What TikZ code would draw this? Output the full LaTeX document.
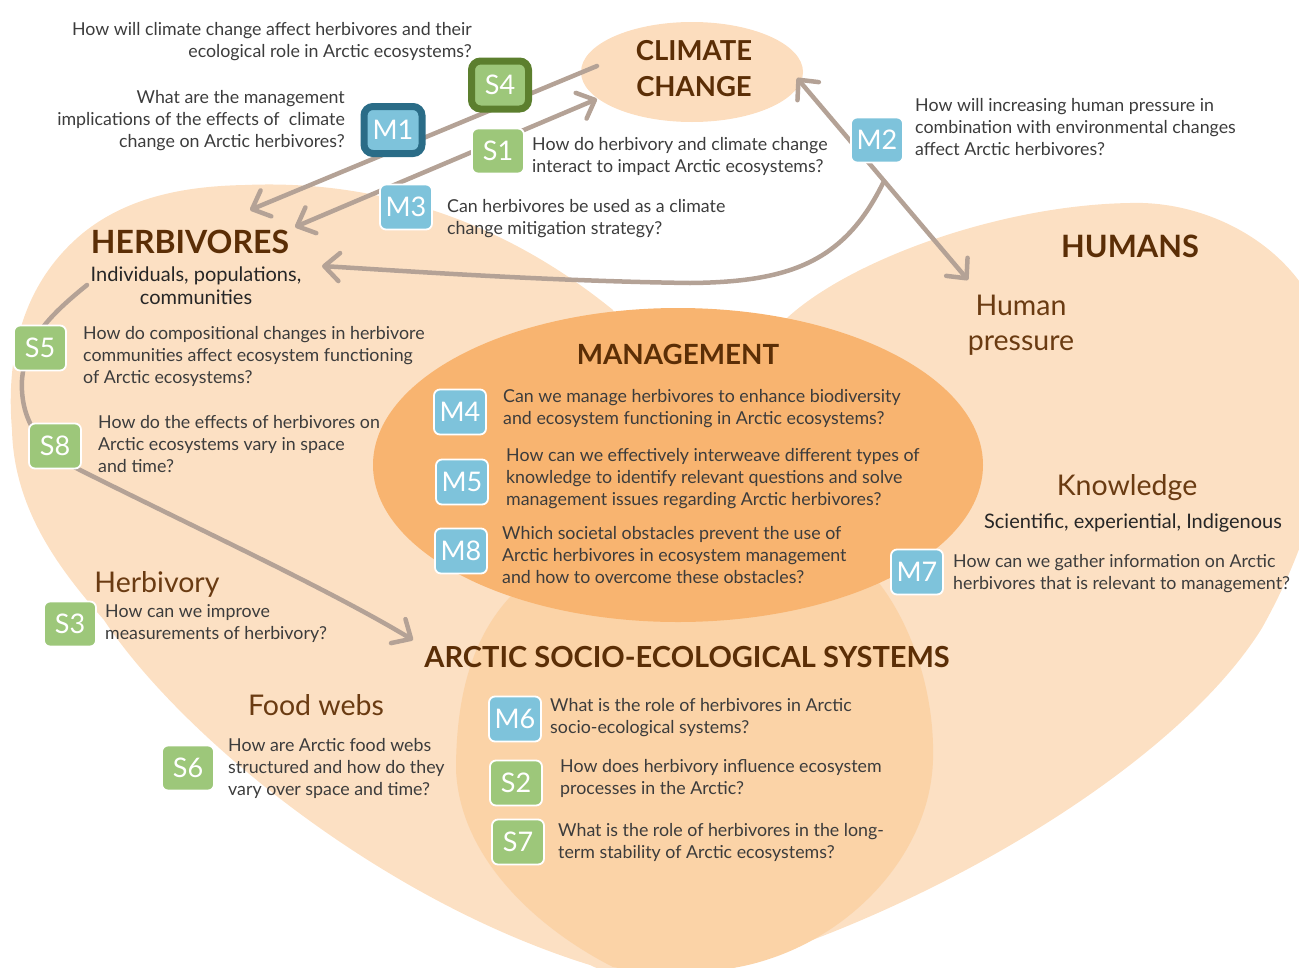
\documentclass[tikz,border=0pt]{standalone}
\usepackage{fontspec}
\setmainfont{Lato}
\usetikzlibrary{arrows.meta}
\definecolor{lightpeach}{HTML}{FCE0C3}
\definecolor{asescol}{HTML}{FBD3A7}
\definecolor{mgmtcol}{HTML}{F8B470}
\definecolor{climcol}{HTML}{FCDDBE}
\definecolor{linecol}{HTML}{B4A296}
\definecolor{sgreen}{HTML}{9DC77A}
\definecolor{mblue}{HTML}{7EC3DB}
\definecolor{dkgreen}{HTML}{5C7F2E}
\definecolor{dkblue}{HTML}{2A6C87}
\definecolor{headcol}{HTML}{5B2E06}
\definecolor{subcol}{HTML}{6A3B12}
\definecolor{qcol}{HTML}{3C3C3C}
\tikzset{
  conn/.style={draw=linecol, line width=4.5pt, line cap=round, line join=round},
  barb/.tip={Straight Barb[length=15pt,width=28pt,round]},
  badge/.style={rounded corners=6pt, draw=white, line width=1.8pt, minimum width=52pt, minimum height=45pt, inner sep=0pt, text=white, font=\fontsize{27}{30}\selectfont},
  sbadge/.style={badge, fill=sgreen},
  mbadge/.style={badge, fill=mblue},
  hsbadge/.style={badge, fill=sgreen, draw=dkgreen, line width=7pt, rounded corners=9pt, minimum width=57pt, minimum height=48pt},
  hmbadge/.style={badge, fill=mblue, draw=dkblue, line width=7pt, rounded corners=9pt, minimum width=58pt, minimum height=47pt},
  qtext/.style={font=\fontsize{17.8}{22}\selectfont, text=qcol, align=left, inner sep=0pt, anchor=north west},
  qtextr/.style={qtext, align=right, anchor=north east},
  heading/.style={text=headcol, inner sep=0pt, align=center},
  subhead/.style={font=\fontsize{28.5}{35}\selectfont, text=subcol, inner sep=0pt, align=center},
  subtext/.style={font=\fontsize{20}{23}\selectfont, text=black!85, inner sep=0pt, align=center},
}
\newcommand{\hfont}[1]{\fontsize{#1}{36}\selectfont\bfseries}
\begin{document}
\begin{tikzpicture}[x=1pt,y=-1pt]
\useasboundingbox (0,0) rectangle (1299,967);
\clip (0,0) rectangle (1299,967);
% background regions
\fill[lightpeach] (245,185) .. controls (360,180) and (490,210) .. (613,310) -- (640,380) -- (760,380) -- (787,318)
  .. controls (850,260) and (1000,205) .. (1130,203) .. controls (1220,200) and (1320,260) .. (1330,360)
  .. controls (1335,470) and (1300,560) .. (1262,628) .. controls (1180,760) and (950,900) .. (740,965)
  .. controls (700,985) and (630,985) .. (590,965) .. controls (380,900) and (180,735) .. (104,620)
  .. controls (60,570) and (14,510) .. (12,430) .. controls (6,360) and (20,285) .. (83,233)
  .. controls (130,195) and (190,186) .. (245,185) -- cycle;
\fill[asescol] (456,770) .. controls (456,680) and (480,600) .. (560,560) -- (830,560)
  .. controls (850,565) and (865,570) .. (875,578) .. controls (910,620) and (935,690) .. (933,760)
  .. controls (930,860) and (840,950) .. (733,968) .. controls (680,975) and (640,972) .. (613,967)
  .. controls (540,930) and (460,860) .. (456,770) -- cycle;
\fill[mgmtcol] (678,465) ellipse (305 and 157);
\fill[climcol] (692,72) ellipse (111 and 50);

% connector end points
\coordinate (cc-a) at (597,66);
\coordinate (herb-a) at (250,210);
\coordinate (cc-b) at (597,99);
\coordinate (herb-b) at (295,227);
\coordinate (cc-c) at (797,78);
\coordinate (hp-a) at (968,280);
\coordinate (br) at (884,181);
\coordinate (herb-c) at (322,266);
\coordinate (herb-d) at (87,285);
\coordinate (ases-a) at (413,640);

% connectors
\draw[conn,-barb] (cc-a) -- (herb-a);
\draw[conn,barb-barb] (herb-b) -- (cc-b);
\draw[conn,barb-barb] (cc-c) -- (hp-a);
\draw[conn,-barb] (br) .. controls (845,262) and (790,282) .. (690,283) .. controls (550,281) and (420,272) .. (herb-c);
\draw[conn,-barb] (herb-d) .. controls (50,315) and (25,340) .. (22,380) .. controls (20,420) and (40,450) .. (80,470) .. controls (200,530) and (330,590) .. (ases-a);

% headings
\node[heading, font=\hfont{27.5}] (clim) at (694,69) {CLIMATE\\CHANGE};
\node[heading, font=\hfont{32}] (herb) at (190,242) {HERBIVORES};
\node[heading, font=\hfont{30.8}] (hum) at (1130,246) {HUMANS};
\node[heading, font=\hfont{27.8}] (mgmt) at (678,354) {MANAGEMENT};
\node[heading, font=\hfont{29}] (ases) at (687,657) {ARCTIC SOCIO-ECOLOGICAL SYSTEMS};
\node[subtext, anchor=north] (herbsub) at (196,267) {Individuals, populations,\\communities};
\node[subtext, anchor=base] (knowsub) at (1133,528) {Scientific, experiential, Indigenous};
\node[subhead, anchor=base] (hbv) at (157,592) {Herbivory};
\node[subhead, anchor=base] (fw) at (316,715) {Food webs};
\node[subhead, anchor=base] (know) at (1127,495) {Knowledge};
\node[subhead, anchor=north] (hpr) at (1021,295) {Human\\pressure};

% badges
\node[hsbadge] (s4) at (500,85) {S4};
\node[hmbadge] (m1) at (393,130) {M1};
\node[sbadge] (s1) at (498,151) {S1};
\node[mbadge] (m3) at (406,207) {M3};
\node[mbadge] (m2) at (877,140) {M2};
\node[sbadge] (s5) at (40,348) {S5};
\node[sbadge] (s8) at (55,446) {S8};
\node[sbadge] (s3) at (70,624) {S3};
\node[sbadge] (s6) at (188,768) {S6};
\node[mbadge] (m4) at (460,412) {M4};
\node[mbadge] (m5) at (462,482) {M5};
\node[mbadge] (m8) at (461,551) {M8};
\node[mbadge] (m7) at (917,572) {M7};
\node[mbadge] (m6) at (515,719) {M6};
\node[sbadge] (s2) at (516,783) {S2};
\node[sbadge] (s7) at (518,842) {S7};

% questions
\node[qtextr] (q-s4) at (472,22) {How will climate change affect herbivores and their\\ecological role in Arctic ecosystems?};
\node[qtextr] (q-m1) at (345,90) {What are the management\\implications of the effects of\ \ climate\\change on Arctic herbivores?};
\node[qtext] (q-s1) at (532,137) {How do herbivory and climate change\\interact to impact Arctic ecosystems?};
\node[qtext] (q-m3) at (447,199) {Can herbivores be used as a climate\\change mitigation strategy?};
\node[qtext] (q-m2) at (915,98) {How will increasing human pressure in\\combination with environmental changes\\affect Arctic herbivores?};
\node[qtext] (q-s5) at (83,326) {How do compositional changes in herbivore\\communities affect ecosystem functioning\\of Arctic ecosystems?};
\node[qtext] (q-s8) at (98,415) {How do the effects of herbivores on\\Arctic ecosystems vary in space\\and time?};
\node[qtext] (q-s3) at (105,604) {How can we improve\\measurements of herbivory?};
\node[qtext] (q-s6) at (228,738) {How are Arctic food webs\\structured and how do they\\vary over space and time?};
\node[qtext] (q-m4) at (503,389) {Can we manage herbivores to enhance biodiversity\\and ecosystem functioning in Arctic ecosystems?};
\node[qtext] (q-m5) at (506,448) {How can we effectively interweave different types of\\knowledge to identify relevant questions and solve\\management issues regarding Arctic herbivores?};
\node[qtext] (q-m8) at (502,526) {Which societal obstacles prevent the use of\\Arctic herbivores in ecosystem management\\and how to overcome these obstacles?};
\node[qtext] (q-m7) at (953,554) {How can we gather information on Arctic\\herbivores that is relevant to management?};
\node[qtext] (q-m6) at (550,698) {What is the role of herbivores in Arctic\\socio-ecological systems?};
\node[qtext] (q-s2) at (560,759) {How does herbivory influence ecosystem\\processes in the Arctic?};
\node[qtext] (q-s7) at (558,823) {What is the role of herbivores in the long-\\term stability of Arctic ecosystems?};
\end{tikzpicture}
\end{document}
